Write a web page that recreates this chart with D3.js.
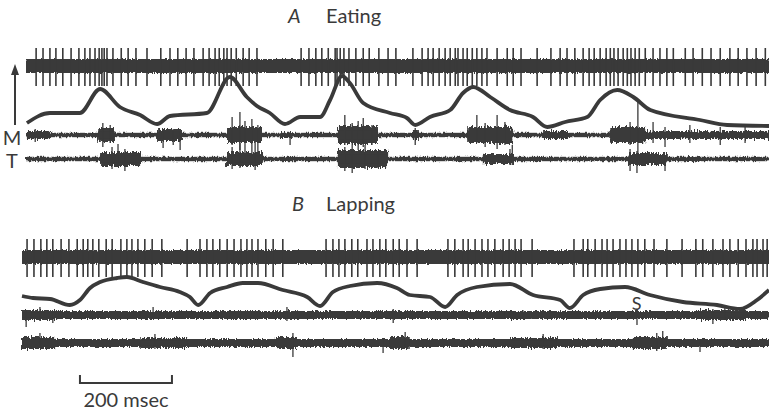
<!DOCTYPE html>
<meta charset="utf-8">
<style>
body { margin: 0; background: #fff; }
text { font-family: Lato, "Open Sans", sans-serif; fill: #3a3a3a; }
</style>
<svg width="769" height="413">
  <defs>
    <filter id="rough" filterUnits="userSpaceOnUse" x="0" y="0" width="769" height="413">
      <feTurbulence type="fractalNoise" baseFrequency="0.7 0.1" numOctaves="2" seed="4" result="n"/>
      <feDisplacementMap in="SourceGraphic" in2="n" scale="7" xChannelSelector="R" yChannelSelector="G"/>
    </filter>
    <filter id="fine" filterUnits="userSpaceOnUse" x="0" y="0" width="769" height="413">
      <feTurbulence type="fractalNoise" baseFrequency="0.8 0.2" numOctaves="2" seed="9" result="n"/>
      <feDisplacementMap in="SourceGraphic" in2="n" scale="4" xChannelSelector="R" yChannelSelector="G"/>
    </filter>
  </defs>
</svg>
<script src="https://cdn.jsdelivr.net/npm/d3@7"></script>
<script>

// unit spike times (msec from start of sweep)
var spikesA = [22,37,52,65,80,98,115,128,139,150,159,165,170,176,189,207,222,239,263,293,313,330,348,365,385,398,411,420,430,437,446,457,472,485,502,598,615,630,643,657,672,676,683,691,702,717,733,746,767,787,804,841,861,874,885,898,911,922,933,939,950,959,970,980,991,1002,1024,1046,1059,1076,1111,1141,1161,1176,1193,1211,1224,1235,1248,1261,1270,1278,1287,1298,1307,1315,1324,1333,1346,1363,1378,1393,1407,1433,1450,1470,1489,1509,1530,1548,1567,1587,1607];
var spikesB = [11,26,41,54,67,85,102,120,133,143,154,167,183,196,215,228,239,252,267,283,304,359,387,402,415,430,446,461,476,489,500,513,530,546,567,661,676,689,702,717,730,750,763,778,791,807,820,837,859,926,941,959,970,985,1000,1013,1028,1046,1059,1072,1085,1109,1200,1220,1230,1246,1261,1272,1285,1300,1313,1326,1339,1354,1374,1402,1435,1465,1480,1502,1524,1539,1557,1574,1589,1598,1611,1620];

// jaw movement trace [msec, opening]
var jawA = [[2,5],[52,15],[117,15],[161,39],[204,21],[248,13],[285,4],[313,12],[393,15],[443,51],[480,31],[502,22],[530,15],[563,4],[596,11],[639,11],[661,28],[687,52],[704,45],[733,25],[791,15],[828,10],[846,3],[878,11],[922,18],[950,35],[972,41],[1009,31],[1052,18],[1102,11],[1133,1],[1172,6],[1220,11],[1248,28],[1285,38],[1320,31],[1357,18],[1465,8],[1524,3],[1615,2]];
var jawB = [[0,14],[24,12],[61,11],[104,5],[126,10],[148,22],[170,28],[207,32],[228,33],[263,28],[300,23],[343,18],[365,13],[383,5],[409,17],[446,23],[480,27],[513,27],[567,20],[620,13],[648,4],[676,18],[713,24],[772,27],[815,22],[843,15],[887,13],[920,3],[946,15],[989,23],[1061,26],[1111,15],[1170,10],[1191,2],[1220,15],[1257,21],[1311,23],[1365,15],[1437,8],[1511,5],[1561,1],[1598,10],[1624,20]];

// EMG bursts [start msec, end msec, half amplitude]
var burstsMA = [[2,52,5],[157,193,8],[285,339,7],[437,513,9],[552,580,4],[678,765,10],[841,854,6],[959,1057,9],[1124,1176,5],[1270,1346,9],[1346,1615,5]];
var burstsTA = [[161,248,8],[437,515,8],[559,574,3],[678,785,10],[993,1059,6],[1096,1128,3],[1309,1393,7],[1422,1465,3]];
var burstsMB = [[0,72,6],[257,300,5],[452,517,5],[572,604,5],[800,822,5],[1050,1104,5],[1474,1572,6]];
var burstsTB = [[0,72,7],[257,359,6],[554,598,7],[800,843,7],[1061,1163,6],[1328,1402,7]];

// large EMG potentials [msec, up, down]
var potMA = [[20,6,7],[167,12,12],[183,10,8],[298,5,13],[320,6,10],[335,4,15],[448,18,10],[465,23,15],[476,14,20],[491,16,23],[504,10,25],[574,3,10],[693,20,10],[709,12,18],[722,14,15],[733,17,12],[752,10,10],[846,7,10],[980,20,8],[998,12,12],[1024,20,14],[1041,13,10],[1313,13,10],[1330,35,23],[1363,13,8],[1389,8,12],[1443,10,8],[1509,8,10],[1563,9,8]];
var potTA = [[187,12,10],[200,15,8],[215,10,12],[448,12,10],[465,16,9],[498,17,11],[693,12,12],[709,10,14],[737,14,10],[765,8,9],[1052,10,6],[1057,14,6],[1313,10,12],[1328,8,14],[1389,4,12]];
var potMB = [[9,5,12],[39,8,6],[67,4,8],[285,8,4],[576,8,6],[807,6,8],[1089,5,4],[1337,4,10],[1502,6,9],[1528,7,5]];
var potTB = [[39,10,5],[289,9,6],[589,10,14],[785,4,10],[833,11,5],[1133,9,6],[1380,10,8],[1393,12,5],[1474,4,9]];

var ink = "#3a3a3a";
var svg = d3.select("svg");

var xA = d3.scaleLinear().domain([0, 1615]).range([26, 769]);
var xB = d3.scaleLinear().domain([0, 1624]).range([22, 769]);

// a band drawn twice: solid core, roughened halo
function band(g, x0, x1, yTop, yBot, core, filter) {
  g.append("rect").attr("x", x0).attr("width", x1 - x0)
    .attr("y", yTop).attr("height", yBot - yTop)
    .attr("fill", ink).attr("filter", filter);
  var c = (yTop + yBot) / 2, h = (yBot - yTop) / 2 * core;
  g.append("rect").attr("x", x0).attr("width", x1 - x0)
    .attr("y", c - h).attr("height", 2 * h).attr("fill", ink);
}

function unitRow(x, cy, times) {
  var y = d3.scaleLinear().domain([-20, 20]).range([cy + 20, cy - 20]);
  var g = svg.append("g");
  band(g, x.range()[0], x.range()[1], y(7), y(-7), 0.8, "url(#fine)");
  g.selectAll("line").data(times).join("line")
    .attr("x1", d => x(d)).attr("x2", d => x(d))
    .attr("y1", y(18)).attr("y2", y(-20))
    .attr("stroke", ink).attr("stroke-width", 1.6);
}

function jawRow(x, base, pts) {
  var y = d3.scaleLinear().domain([0, 50]).range([base, base - 50]);
  svg.append("path").datum(pts)
    .attr("fill", "none").attr("stroke", ink).attr("stroke-width", 3.8)
    .attr("stroke-linejoin", "round")
    .attr("d", d3.line().x(d => x(d[0])).y(d => y(d[1])).curve(d3.curveMonotoneX));
}

function emgRow(x, cy, noise, bursts, pots) {
  var y = d3.scaleLinear().domain([-40, 40]).range([cy + 40, cy - 40]);
  var g = svg.append("g");
  band(g, x.range()[0], x.range()[1], y(noise), y(-noise), 0.6, "url(#fine)");
  g.selectAll("g.burst").data(bursts).join("g")
    .each(function(d) {
      band(d3.select(this), x(d[0]), x(d[1]), y(d[2] - 1), y(-d[2] + 1), 0.55, "url(#rough)");
    });
  g.selectAll("line").data(pots).join("line")
    .attr("x1", d => x(d[0])).attr("x2", d => x(d[0]))
    .attr("y1", d => y(d[1])).attr("y2", d => y(-d[2]))
    .attr("stroke", ink).attr("stroke-width", 1.3);
}

// panel A
unitRow(xA, 66, spikesA);
jawRow(xA, 128, jawA);
emgRow(xA, 135, 2.2, burstsMA, potMA);
emgRow(xA, 159, 2.2, burstsTA, potTA);

// panel B
unitRow(xB, 257, spikesB);
jawRow(xB, 310, jawB);
emgRow(xB, 315, 4, burstsMB, potMB);
emgRow(xB, 343, 4, burstsTB, potTB);

// titles
svg.append("text").attr("x", 288).attr("y", 23).attr("font-size", 20).attr("font-style", "italic").text("A");
svg.append("text").attr("x", 326).attr("y", 23).attr("font-size", 20).text("Eating");
svg.append("text").attr("x", 292).attr("y", 211).attr("font-size", 20).attr("font-style", "italic").text("B");
svg.append("text").attr("x", 326).attr("y", 211).attr("font-size", 20).text("Lapping");

// side labels and arrow
svg.append("line").attr("x1", 15).attr("x2", 15).attr("y1", 72).attr("y2", 125)
  .attr("stroke", ink).attr("stroke-width", 2);
svg.append("path").attr("d", "M15,64L11,75L19,75Z").attr("fill", ink);
svg.append("text").attr("x", 12).attr("y", 145).attr("font-size", 20).attr("text-anchor", "middle").text("M");
svg.append("text").attr("x", 12).attr("y", 168).attr("font-size", 20).attr("text-anchor", "middle").text("T");
svg.append("text").attr("x", xB(1336)).attr("y", 310).attr("font-size", 18).attr("text-anchor", "middle").text("S");

// time scale bar
var barStart = 126, barLen = 200;
svg.append("path")
  .attr("d", "M" + xB(barStart) + ",375V383H" + xB(barStart + barLen) + "V375")
  .attr("fill", "none").attr("stroke", ink).attr("stroke-width", 2);
svg.append("text").attr("x", (xB(barStart) + xB(barStart + barLen)) / 2).attr("y", 407)
  .attr("font-size", 20).attr("text-anchor", "middle").text(barLen + " msec");

</script>
